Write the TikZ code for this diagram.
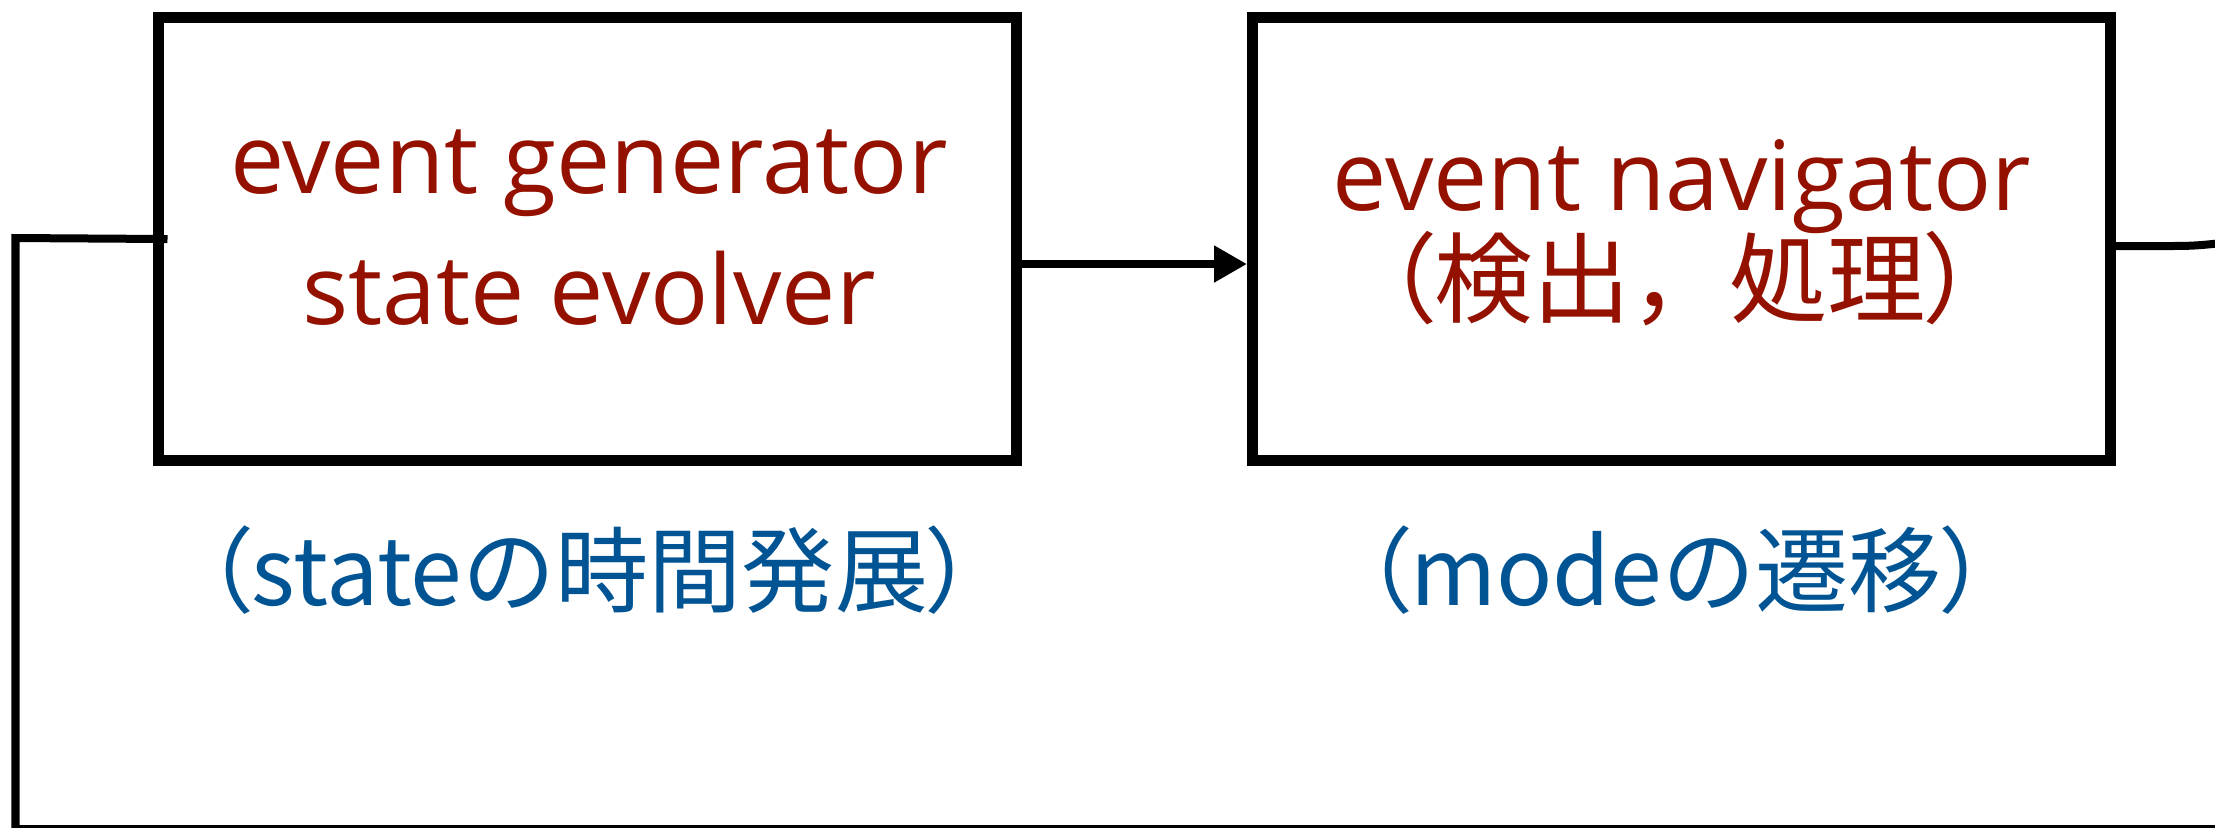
\documentclass[tikz,border=0pt]{standalone}
\usepackage{fontspec}
\usetikzlibrary{arrows.meta}
\newfontfamily\latinfont{Open Sans}
\newfontfamily\cjkfont{Noto Sans CJK JP}
\newfontfamily\cjkpalt[RawFeature=+palt]{Noto Sans CJK JP}
\definecolor{cayenne}{RGB}{148,17,0}
\definecolor{ocean}{RGB}{0,84,147}

\begin{document}
\begin{tikzpicture}
    \tikzstyle{block}=[rectangle, draw=black, line width=0.11cm, minimum width=8.58cm, minimum height=4.425cm, inner sep=0pt]
    \tikzstyle{redtext}=[text=cayenne, font=\fontsize{27.5}{30}\selectfont\latinfont, inner sep=0pt, anchor=base]
    \tikzstyle{redjp}=[text=cayenne, font=\fontsize{28}{30}\selectfont\cjkfont, inner sep=0pt, anchor=base]
    \tikzstyle{bluejp}=[text=ocean, font=\fontsize{26.5}{30}\selectfont\cjkfont, inner sep=0pt, anchor=base]
    \tikzstyle{wire}=[draw=black, line width=0.08cm]

    \useasboundingbox (0,0) rectangle (22.15,-8.27);

    \node[block] (gen) at (5.875,-2.39) {};
    \node[block] (nav) at (16.815,-2.39) {};

    \node[redtext] (genline1) at (5.89,-1.93) {event generator};
    \node[redtext] (genline2) at (5.89,-3.24) {state evolver};
    \node[redtext] (navline1) at (16.82,-2.10) {event navigator};
    \node[redjp]   (navline2) at (16.80,-3.15) {{\cjkpalt（}検出，処理{\cjkpalt）}};

    \node[bluejp] (genrole) at (5.90,-6.05) {{\cjkpalt（}stateの時間発展{\cjkpalt）}};
    \node[bluejp] (navrole) at (16.76,-6.05) {{\cjkpalt（}modeの遷移{\cjkpalt）}};

    \draw[wire, -{Triangle[length=0.33cm, width=0.35cm]}] ([yshift=-0.25cm]gen.east) -- ([yshift=-0.25cm]nav.west);

    % feedback loop back into the generator
    \draw[wire] ([xshift=0.145cm]gen.west) -- (0.155,-2.38) -- (0.155,-8.29) -- (22.4,-8.29);
    \draw[wire] ([yshift=-0.07cm]nav.east) -- (21.6,-2.46) .. controls (21.95,-2.46) .. (22.4,-2.41);

\end{tikzpicture}
\end{document}
